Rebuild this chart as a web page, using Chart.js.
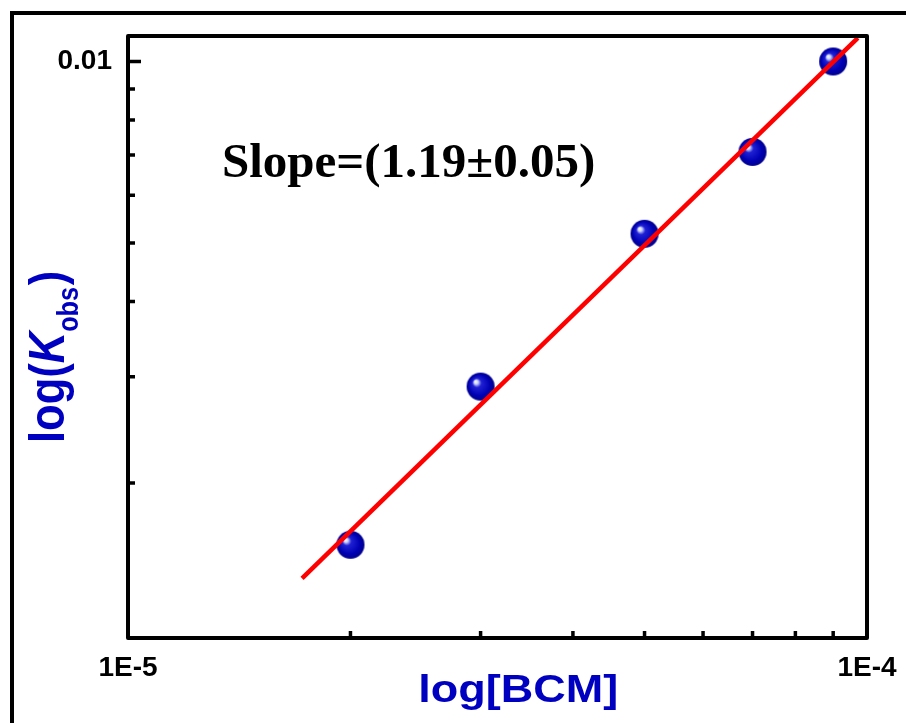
<!DOCTYPE html>
<html><head><meta charset="utf-8">
<script src="https://cdn.jsdelivr.net/npm/chart.js@4.4.0/dist/chart.umd.min.js"></script>
<style>html,body{margin:0;padding:0;background:#fff;}canvas{display:block;}</style>
</head><body>
<canvas id="c" width="906" height="723"></canvas>
<script>
// ---- data ----
const concBCM = [2e-5, 3e-5, 5e-5, 7e-5, 9e-5];
const kObs = [0.00158, 0.00289, 0.00518, 0.00708, 0.0100];
const fitX = [1.72e-5, 9.72e-5];
const fitY = [0.00139, 0.01094];
const xTickValues = [1e-5, 2e-5, 3e-5, 4e-5, 5e-5, 6e-5, 7e-5, 8e-5, 9e-5, 1e-4];
const xMajorValues = [1e-5, 1e-4];
const xMajorLabels = ['1E-5', '1E-4'];
const yTickValues = [0.002, 0.003, 0.004, 0.005, 0.006, 0.007, 0.008, 0.009, 0.01];
const yMajorValues = [0.01];
const yMajorLabels = ['0.01'];
const xRange = [1e-5, 1e-4];
const yRange = [0.001107, 0.01102];
const slopeText = 'Slope=(1.19\u00B10.05)';
const slopeAnchor = [1.34e-5, 0.00643];

const SANS = '"Liberation Sans", Arial, sans-serif';
const SERIF = '"Liberation Serif", "Times New Roman", serif';
const BLUE = '#0000c0';

function majorIndex(list, v) {
  for (let i = 0; i < list.length; i++) if (Math.abs(v - list[i]) / list[i] < 1e-6) return i;
  return -1;
}

// sphere marker image
function makeSphere(r) {
  const s = Math.ceil(r * 2 + 2);
  const cv = document.createElement('canvas');
  cv.width = s; cv.height = s;
  const g = cv.getContext('2d');
  const c = s / 2;
  const grad = g.createRadialGradient(c - r * 0.38, c - r * 0.38, 0, c, c, r);
  grad.addColorStop(0, '#ffffff');
  grad.addColorStop(0.14, '#d0d8ff');
  grad.addColorStop(0.32, '#2020d4');
  grad.addColorStop(0.75, '#0000b4');
  grad.addColorStop(1, '#00008c');
  g.fillStyle = grad;
  g.beginPath(); g.arc(c, c, r, 0, Math.PI * 2); g.fill();
  return cv;
}
const sphere = makeSphere(14);

const decor = {
  id: 'decor',
  beforeDraw(chart) {
    const ctx = chart.ctx;
    ctx.save();
    ctx.fillStyle = '#fff';
    ctx.fillRect(0, 0, chart.width, chart.height);
    ctx.strokeStyle = '#000';
    ctx.lineWidth = 4;
    ctx.beginPath();
    ctx.moveTo(12, chart.height + 5);
    ctx.lineTo(12, 13);
    ctx.lineTo(chart.width + 5, 13);
    ctx.stroke();
    ctx.restore();
  },
  afterDraw(chart) {
    const { ctx, chartArea: a, scales: { x, y } } = chart;
    ctx.save();
    // frame
    ctx.strokeStyle = '#000';
    ctx.lineWidth = 4;
    ctx.lineJoin = 'round';
    ctx.strokeRect(a.left, a.top, a.right - a.left, a.bottom - a.top);
    // inward ticks
    ctx.lineWidth = 3.5;
    ctx.beginPath();
    x.ticks.forEach(t => {
      const px = x.getPixelForValue(t.value);
      if (px <= a.left + 1 || px >= a.right - 1) return;
      const len = majorIndex(xMajorValues, t.value) >= 0 ? 12 : 7;
      ctx.moveTo(px, a.bottom); ctx.lineTo(px, a.bottom - len);
    });
    y.ticks.forEach(t => {
      const py = y.getPixelForValue(t.value);
      if (py <= a.top + 1 || py >= a.bottom - 1) return;
      const len = majorIndex(yMajorValues, t.value) >= 0 ? 13 : 7;
      ctx.moveTo(a.left, py); ctx.lineTo(a.left + len, py);
    });
    ctx.stroke();

    // slope annotation
    ctx.fillStyle = '#000';
    ctx.font = 'bold 49px ' + SERIF;
    ctx.textBaseline = 'alphabetic';
    ctx.textAlign = 'left';
    ctx.fillText(slopeText, x.getPixelForValue(slopeAnchor[0]), y.getPixelForValue(slopeAnchor[1]));

    // x axis title
    ctx.save();
    ctx.fillStyle = BLUE;
    ctx.translate(a.left + (a.right - a.left) * 0.528, 702);
    ctx.scale(1, 0.86);
    ctx.font = 'bold 45px ' + SANS;
    ctx.textAlign = 'center';
    ctx.fillText('log[BCM]', 0, 0);
    ctx.restore();

    // y axis title: log(K_obs)
    ctx.save();
    ctx.fillStyle = BLUE;
    ctx.translate(64, 443);
    ctx.rotate(-Math.PI / 2);
    ctx.scale(0.87, 1);
    ctx.textAlign = 'left';
    let cx = 0;
    ctx.font = 'bold 50px ' + SANS;
    ctx.fillText('log(', cx, 0); cx += ctx.measureText('log(').width;
    ctx.font = 'italic bold 50px ' + SANS;
    ctx.fillText('K', cx, 0); cx += ctx.measureText('K').width;
    ctx.font = 'bold 29px ' + SANS;
    ctx.fillText('obs', cx, 14); cx += ctx.measureText('obs').width + 2;
    ctx.font = 'bold 50px ' + SANS;
    ctx.fillText(')', cx, 0);
    ctx.restore();

    ctx.restore();
  }
};

new Chart(document.getElementById('c'), {
  type: 'scatter',
  data: {
    datasets: [
      {
        label: 'fit',
        data: fitX.map((v, i) => ({ x: v, y: fitY[i] })),
        showLine: true,
        borderColor: '#ff0000',
        borderWidth: 4.5,
        pointRadius: 0,
        order: 0
      },
      {
        label: 'kobs',
        data: concBCM.map((v, i) => ({ x: v, y: kObs[i] })),
        pointStyle: sphere,
        pointRadius: 14,
        order: 1
      }
    ]
  },
  options: {
    responsive: false,
    animation: false,
    devicePixelRatio: 1,
    layout: { padding: { left: 0, top: 36, right: 39, bottom: 0 } },
    plugins: { legend: { display: false }, tooltip: { enabled: false } },
    scales: {
      x: {
        type: 'logarithmic',
        min: xRange[0], max: xRange[1],
        grid: { display: false, drawTicks: false },
        border: { display: false },
        afterBuildTicks: s => { s.ticks = xTickValues.map(v => ({ value: v })); },
        afterFit: s => { s.height = 85; s.paddingLeft = 0; s.paddingRight = 0; },
        ticks: {
          autoSkip: false, maxRotation: 0, padding: 13,
          color: '#000',
          font: { family: SANS, size: 28, weight: 'bold' },
          callback: v => { const i = majorIndex(xMajorValues, v); return i >= 0 ? xMajorLabels[i] : ''; }
        }
      },
      y: {
        type: 'logarithmic',
        min: yRange[0], max: yRange[1],
        grid: { display: false, drawTicks: false },
        border: { display: false },
        afterBuildTicks: s => { s.ticks = yTickValues.map(v => ({ value: v })); },
        afterFit: s => { s.width = 128; s.paddingTop = 0; s.paddingBottom = 0; },
        ticks: {
          autoSkip: false, padding: 16,
          color: '#000',
          font: { family: SANS, size: 28, weight: 'bold' },
          callback: v => { const i = majorIndex(yMajorValues, v); return i >= 0 ? yMajorLabels[i] : ''; }
        }
      }
    }
  },
  plugins: [decor]
});
</script>
</body></html>
